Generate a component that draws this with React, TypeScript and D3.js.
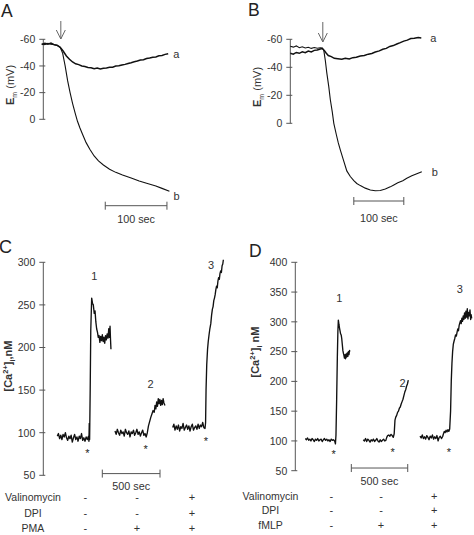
import React from 'react';
import * as d3 from 'd3';

type P = [number, number];

// ---------- Panel A (membrane potential, mV; time in s) ----------
const emTicks = [-60, -40, -20, 0];
const traceAa: P[] = [
  [0, -56], [5, -57], [10, -56.4], [15, -57.1], [20, -56], [25, -55.6], [30, -54], [35, -51], [40, -47.5],
  [45, -45], [50, -43], [55, -41.6], [60, -41], [65, -40], [70, -39.6], [75, -38.9], [80, -38.6], [85, -38],
  [90, -38.4], [95, -37.7], [100, -38.3], [105, -38.5], [110, -39.1], [115, -39.1], [120, -39.9], [125, -40.1],
  [130, -40.7], [135, -41.2], [140, -41.9], [145, -42.4], [150, -43.1], [155, -43.7], [160, -44.4], [165, -44.7],
  [170, -45.6], [175, -45.9], [180, -46.5], [185, -46.7], [190, -47.6], [195, -47.9], [200, -48.7], [205, -49.2],
];
const traceAb: P[] = [
  [0, -56.6], [5, -56], [10, -57], [15, -56.4], [20, -56], [25, -55.4], [30, -54], [34, -49.5], [38, -40],
  [42, -29], [46, -20], [50, -12], [54, -5], [58, 1.5], [62, 6.5], [66, 11], [72, 17.5], [78, 22.5], [85, 27.5],
  [92, 31.2], [100, 34.3], [110, 37.4], [120, 39.8], [131, 41.8], [145, 44], [158, 46.3], [170, 48], [185, 50],
  [195, 51.8], [207, 54],
];
const arrowA = 31;
const scaleBarA = 103;

// ---------- Panel B ----------
const traceBa: P[] = [
  [0, -50], [6, -49.4], [12, -50.6], [18, -50], [24, -51.1], [30, -50.4], [36, -51.6], [42, -51], [48, -52.1],
  [54, -52.4], [60, -53.1], [64, -53.4], [68, -52], [72, -50], [76, -48.4], [82, -47.6], [88, -46.4], [95, -46.1],
  [103, -45.7], [110, -46.4], [118, -45.9], [125, -46.9], [132, -47.2], [140, -48.1], [148, -48.4], [156, -49.4],
  [163, -49.9], [170, -50.9], [178, -51.7], [185, -52.9], [192, -53.5], [199, -54.9], [206, -55.5], [213, -56.6],
  [220, -57.6], [227, -58.7], [234, -59.4], [241, -60.5], [248, -60.7], [256, -61.3], [262, -61],
];
const traceBb: P[] = [
  [0, -55], [6, -54.4], [12, -55.3], [18, -54], [24, -54.7], [30, -53.8], [36, -54.3], [42, -53.5], [48, -54.1],
  [54, -53.6], [60, -54], [64, -53.8], [67, -52], [70, -45], [73, -36], [77, -26], [80, -17], [84, -8], [87, 0],
  [92, 8], [96, 14], [100, 19], [106, 26], [113, 34], [120, 38], [127, 41], [133, 43], [140, 44.5], [150, 46.3],
  [160, 47.6], [170, 48.2], [180, 48], [190, 47], [200, 45.4], [207, 44], [215, 42.5], [225, 41], [233, 39.3],
  [243, 37.5], [253, 36], [263, 34.6],
];
const arrowB = 65;
const scaleBarB = 127;

// ---------- Panel C ([Ca2+]i nM, PMA) ----------
const caTicksC = [50, 100, 150, 200, 250, 300];
const traceC1: P[] = [
  [0, 96], [10, 99], [20, 93], [30, 97], [40, 92], [50, 98], [60, 95], [70, 100], [80, 94], [90, 91], [100, 96],
  [110, 93], [120, 97], [130, 89], [140, 94], [150, 98], [160, 92], [170, 95], [180, 90], [190, 96], [200, 93],
  [210, 99], [220, 91], [230, 94], [240, 90], [250, 95], [260, 92], [270, 96], [274, 90], [277, 111], [280, 92],
  [285, 150], [290, 220], [298, 258], [305, 252], [312, 250], [320, 240], [327, 243], [334, 230], [341, 222],
  [348, 218], [355, 212], [362, 214], [369, 206], [376, 213], [383, 208], [390, 215], [397, 207], [404, 212],
  [411, 205], [418, 214], [425, 209], [432, 216], [439, 211], [446, 222], [451, 212], [457, 225], [461, 210],
  [465, 198],
];
const traceC2: P[] = [
  [500, 102], [510, 98], [520, 104], [530, 100], [540, 97], [550, 103], [560, 99], [570, 101], [580, 96],
  [590, 104], [600, 100], [610, 98], [620, 102], [630, 95], [640, 101], [650, 99], [660, 103], [670, 97],
  [680, 100], [690, 104], [700, 98], [710, 101], [720, 96], [730, 100], [740, 103], [750, 97], [760, 99],
  [770, 95], [780, 100], [790, 108], [800, 113], [810, 118], [820, 122], [830, 126], [840, 124], [847, 132],
  [854, 128], [861, 136], [868, 131], [875, 140], [882, 134], [889, 139], [896, 132], [903, 138], [910, 133],
  [917, 140], [924, 135], [933, 132],
];
const traceC3: P[] = [
  [1000, 106], [1010, 110], [1020, 103], [1030, 108], [1040, 104], [1050, 109], [1060, 102], [1070, 107],
  [1080, 105], [1090, 111], [1100, 103], [1110, 106], [1120, 109], [1130, 104], [1140, 108], [1150, 102],
  [1160, 107], [1170, 110], [1180, 103], [1190, 106], [1200, 108], [1210, 104], [1220, 110], [1230, 105],
  [1240, 109], [1250, 107], [1260, 112], [1270, 106], [1280, 105], [1285, 112], [1289, 150], [1295, 180],
  [1302, 198], [1308, 207], [1315, 215], [1322, 222], [1330, 228], [1337, 238], [1344, 245], [1350, 248],
  [1356, 255], [1362, 258], [1368, 262], [1374, 268], [1380, 272], [1386, 270], [1392, 278], [1398, 282],
  [1404, 280], [1410, 287], [1416, 290], [1422, 288], [1428, 296], [1434, 298], [1439, 303],
];
const labelsC = [{ t: 321, v: 279, s: '1' }, { t: 809, v: 153, s: '2' }, { t: 1332, v: 292, s: '3' }];
const starsC = [{ t: 260, v: 72 }, { t: 766, v: 76 }, { t: 1288, v: 85 }];
const scaleBarC = 390;
const tableColsC = [243, 691, 1168];
const rowNamesC = ['Valinomycin', 'DPI', 'PMA'];
const rowSignsC = [['-', '-', '+'], ['-', '-', '+'], ['-', '+', '+']];

// ---------- Panel D ([Ca2+]i nM, fMLP) ----------
const caTicksD = [50, 100, 150, 200, 250, 300, 350, 400];
const traceD1: P[] = [
  [0, 104], [10, 102], [20, 105], [30, 101], [40, 103], [50, 100], [60, 104], [70, 102], [80, 99], [90, 103],
  [100, 101], [110, 104], [120, 100], [130, 102], [140, 103], [150, 99], [160, 102], [170, 104], [180, 101],
  [190, 103], [200, 100], [210, 102], [220, 99], [230, 103], [240, 101], [250, 102], [260, 100], [267, 95],
  [272, 110], [278, 170], [284, 240], [289, 285], [293, 303], [298, 296], [303, 290], [308, 285], [313, 280],
  [318, 278], [323, 272], [328, 262], [333, 252], [337, 248], [342, 244], [347, 239], [352, 245], [357, 238],
  [362, 246], [367, 241], [372, 248], [377, 242], [382, 250], [387, 245], [392, 252], [396, 250],
];
const traceD2: P[] = [
  [514, 102], [524, 100], [534, 104], [544, 99], [554, 103], [564, 101], [574, 98], [584, 102], [594, 100],
  [604, 103], [614, 99], [624, 101], [634, 104], [644, 100], [654, 98], [664, 102], [674, 99], [684, 101],
  [694, 103], [704, 100], [714, 101], [722, 106], [730, 109], [740, 110], [750, 108], [760, 111], [770, 109],
  [780, 106], [788, 112], [795, 135], [802, 140], [810, 143], [818, 148], [826, 150], [834, 155], [842, 157],
  [850, 162], [858, 166], [866, 170], [874, 176], [882, 182], [890, 186], [898, 192], [906, 196], [913, 202],
];
const traceD3: P[] = [
  [1017, 108], [1027, 105], [1037, 110], [1047, 104], [1057, 107], [1067, 103], [1077, 109], [1087, 106],
  [1097, 102], [1107, 108], [1117, 105], [1127, 110], [1137, 103], [1147, 107], [1157, 104], [1167, 109],
  [1177, 100], [1187, 106], [1197, 108], [1207, 104], [1217, 107], [1225, 112], [1232, 116], [1240, 114],
  [1248, 118], [1256, 115], [1264, 119], [1272, 116], [1280, 120], [1288, 150], [1294, 200], [1300, 230],
  [1306, 250], [1312, 262], [1318, 267], [1325, 272], [1332, 278], [1339, 276], [1346, 283], [1352, 288],
  [1358, 285], [1364, 294], [1370, 298], [1376, 302], [1382, 297], [1388, 306], [1394, 301], [1400, 310],
  [1406, 304], [1412, 315], [1418, 306], [1424, 318], [1430, 308], [1436, 322], [1442, 305], [1448, 316],
  [1454, 310], [1460, 320], [1466, 304], [1470, 312], [1475, 306],
];
const labelsD = [{ t: 301, v: 334, s: '1' }, { t: 863, v: 190, s: '2' }, { t: 1369, v: 348, s: '3' }];
const starsD = [{ t: 252, v: 72 }, { t: 775, v: 75 }, { t: 1274, v: 75 }];
const scaleBarD = 408;
const tableColsD = [230, 671, 1144];
const rowNamesD = ['Valinomycin', 'DPI', 'fMLP'];
const rowSignsD = [['-', '-', '+'], ['-', '-', '+'], ['-', '+', '+']];

const FONT = '"Liberation Sans", Arial, sans-serif';
const TXT = '#333';
const AX = '#555';
const TR = '#111';

function YAxis({ x, y, ticks }: { x: number; y: d3.ScaleLinear<number, number>; ticks: number[] }) {
  const [d0, d1] = d3.extent(ticks) as [number, number];
  return (
    <g>
      <line x1={x} x2={x} y1={y(d0)} y2={y(d1)} stroke={AX} strokeWidth={1} />
      {ticks.map((t) => (
        <g key={t}>
          <line x1={x - 4} x2={x + 2} y1={y(t)} y2={y(t)} stroke={AX} strokeWidth={1} />
          <text x={x - 8} y={y(t) + 3.8} textAnchor="end" fontSize={10.5} fill={TXT}>
            {String(t)}
          </text>
        </g>
      ))}
    </g>
  );
}

function ScaleBar({ x0, x1, y, label, ty }: { x0: number; x1: number; y: number; label: string; ty: number }) {
  return (
    <g>
      <line x1={x0} x2={x1} y1={y} y2={y} stroke={AX} strokeWidth={1} />
      <line x1={x0} x2={x0} y1={y - 4} y2={y + 4} stroke={AX} strokeWidth={1} />
      <line x1={x1} x2={x1} y1={y - 4} y2={y + 4} stroke={AX} strokeWidth={1} />
      <text x={(x0 + x1) / 2} y={ty} textAnchor="middle" fontSize={10.8} fill={TXT}>{label}</text>
    </g>
  );
}

function Arrow({ x, y0, y1 }: { x: number; y0: number; y1: number }) {
  return (
    <g stroke="#666" strokeWidth={1} fill="none">
      <line x1={x} x2={x} y1={y0} y2={y1} />
      <polyline points={`${x - 4.5},${y1 - 9} ${x},${y1} ${x + 4.5},${y1 - 9}`} />
    </g>
  );
}

export default function App() {
  const xA = d3.scaleLinear().domain([0, 210]).range([41.7, 41.7 + 210 * 0.617]);
  const yA = d3.scaleLinear().domain([-60, 0]).range([39.3, 119.3]);
  const lineA = d3.line<P>().x((d) => xA(d[0])).y((d) => yA(d[1]));
  const xB = d3.scaleLinear().domain([0, 264]).range([290.3, 290.3 + 264 * 0.5]);
  const yB = d3.scaleLinear().domain([-60, 0]).range([39.3, 123.3]);
  const lineB = d3.line<P>().x((d) => xB(d[0])).y((d) => yB(d[1]));
  const xC = d3.scaleLinear().domain([0, 1440]).range([57.3, 57.3 + 1440 * 0.1154]);
  const yC = d3.scaleLinear().domain([50, 300]).range([475.3, 262.3]);
  const lineC = d3.line<P>().x((d) => xC(d[0])).y((d) => yC(d[1]));
  const xD = d3.scaleLinear().domain([0, 1480]).range([305.3, 305.3 + 1480 * 0.1128]);
  const yD = d3.scaleLinear().domain([50, 400]).range([470.7, 262.3]);
  const lineD = d3.line<P>().x((d) => xD(d[0])).y((d) => yD(d[1]));

  const rowsY = [501, 517, 531.5];
  const rowsYD = [500, 514, 528.5];

  return (
    <svg width={474} height={535} style={{ position: 'absolute', left: 0, top: 0, background: '#fff' }} fontFamily={FONT}>
      <rect width={474} height={535} fill="#fff" />
      <text x={1} y={16.5} fontSize={17.5} fill="#222">A</text>
      <text x={248} y={16} fontSize={17.5} fill="#222">B</text>
      <text x={-1} y={253} fontSize={18} fill="#222">C</text>
      <text x={249} y={257} fontSize={17.5} fill="#222">D</text>

      {/* Panel A */}
      <YAxis x={43.3} y={yA} ticks={emTicks} />
      <text transform="translate(14,85) rotate(-90)" textAnchor="middle" fontSize={11} fill={TXT}>
        <tspan fontWeight="bold">E</tspan>
        <tspan fontSize={7} dy={2.5}>m</tspan>
        <tspan dy={-2.5}> (mV)</tspan>
      </text>
      <path d={lineA(traceAb) || ''} fill="none" stroke={TR} strokeWidth={1.1} />
      <path d={lineA(traceAa) || ''} fill="none" stroke={TR} strokeWidth={1.5} />
      <Arrow x={xA(arrowA)} y0={21} y1={39} />
      <text x={xA(traceAa[traceAa.length - 1][0]) + 5} y={yA(traceAa[traceAa.length - 1][1]) + 4} fontSize={11} fill={TXT}>a</text>
      <text x={xA(traceAb[traceAb.length - 1][0]) + 4} y={yA(traceAb[traceAb.length - 1][1]) + 9} fontSize={11} fill={TXT}>b</text>
      <ScaleBar x0={xA(scaleBarA)} x1={xA(scaleBarA + 100)} y={205.7} label="100 sec" ty={223} />

      {/* Panel B */}
      <YAxis x={290.3} y={yB} ticks={emTicks} />
      <text transform="translate(261,87) rotate(-90)" textAnchor="middle" fontSize={11} fill={TXT}>
        <tspan fontWeight="bold">E</tspan>
        <tspan fontSize={7} dy={2.5}>m</tspan>
        <tspan dy={-2.5}> (mV)</tspan>
      </text>
      <path d={lineB(traceBb) || ''} fill="none" stroke={TR} strokeWidth={1.1} />
      <path d={lineB(traceBa) || ''} fill="none" stroke={TR} strokeWidth={1.5} />
      <Arrow x={xB(arrowB)} y0={22} y1={42} />
      <text x={xB(traceBa[traceBa.length - 1][0]) + 9} y={yB(traceBa[traceBa.length - 1][1]) + 4} fontSize={11} fill={TXT}>a</text>
      <text x={xB(traceBb[traceBb.length - 1][0]) + 10} y={yB(traceBb[traceBb.length - 1][1]) + 4} fontSize={11} fill={TXT}>b</text>
      <ScaleBar x0={xB(scaleBarB)} x1={xB(scaleBarB + 100)} y={201} label="100 sec" ty={222} />

      {/* Panel C */}
      <YAxis x={43.3} y={yC} ticks={caTicksC} />
      <text transform="translate(12,366) rotate(-90)" textAnchor="middle" fontSize={11} fontWeight="bold" fill={TXT}>
        [Ca<tspan fontSize={7.5} dy={-4}>2+</tspan><tspan dy={4}>]</tspan><tspan fontSize={7.5} dy={2.5}>i</tspan><tspan dy={-2.5}>,nM</tspan>
      </text>
      {[traceC1, traceC2, traceC3].map((tr, i) => (
        <path key={i} d={lineC(tr) || ''} fill="none" stroke={TR} strokeWidth={1.35} strokeLinejoin="round" />
      ))}
      {labelsC.map((l) => (
        <text key={l.s} x={xC(l.t)} y={yC(l.v)} textAnchor="middle" fontSize={11} fill={TXT}>{l.s}</text>
      ))}
      {starsC.map((s, i) => (
        <text key={i} x={xC(s.t)} y={yC(s.v)} textAnchor="middle" fontSize={11} fill="#222">*</text>
      ))}
      <ScaleBar x0={xC(scaleBarC)} x1={xC(scaleBarC + 500)} y={yC(52)} label="500 sec" ty={490} />
      {rowNamesC.map((n, r) => (
        <g key={n}>
          <text x={33} y={rowsY[r]} textAnchor="middle" fontSize={10.5} fill={TXT}>{n}</text>
          {rowSignsC[r].map((s, c) => (
            <text key={c} x={xC(tableColsC[c])} y={rowsY[r]} textAnchor="middle" fontSize={11} fill={TXT}>{s}</text>
          ))}
        </g>
      ))}

      {/* Panel D */}
      <YAxis x={295.3} y={yD} ticks={caTicksD} />
      <text transform="translate(259,352) rotate(-90)" textAnchor="middle" fontSize={11} fontWeight="bold" fill={TXT}>
        [Ca<tspan fontSize={7.5} dy={-4}>2+</tspan><tspan dy={4}>]</tspan><tspan fontSize={7.5} dy={2.5}>i</tspan><tspan dy={-2.5}> nM</tspan>
      </text>
      {[traceD1, traceD2, traceD3].map((tr, i) => (
        <path key={i} d={lineD(tr) || ''} fill="none" stroke={TR} strokeWidth={1.35} strokeLinejoin="round" />
      ))}
      {labelsD.map((l) => (
        <text key={l.s} x={xD(l.t)} y={yD(l.v)} textAnchor="middle" fontSize={11} fill={TXT}>{l.s}</text>
      ))}
      {starsD.map((s, i) => (
        <text key={i} x={xD(s.t)} y={yD(s.v)} textAnchor="middle" fontSize={11} fill="#222">*</text>
      ))}
      <ScaleBar x0={xD(scaleBarD)} x1={xD(scaleBarD + 500)} y={yD(54.5)} label="500 sec" ty={485} />
      {rowNamesD.map((n, r) => (
        <g key={n}>
          <text x={270.5} y={rowsYD[r]} textAnchor="middle" fontSize={10.5} fill={TXT}>{n}</text>
          {rowSignsD[r].map((s, c) => (
            <text key={c} x={xD(tableColsD[c])} y={rowsYD[r]} textAnchor="middle" fontSize={11} fill={TXT}>{s}</text>
          ))}
        </g>
      ))}
    </svg>
  );
}
